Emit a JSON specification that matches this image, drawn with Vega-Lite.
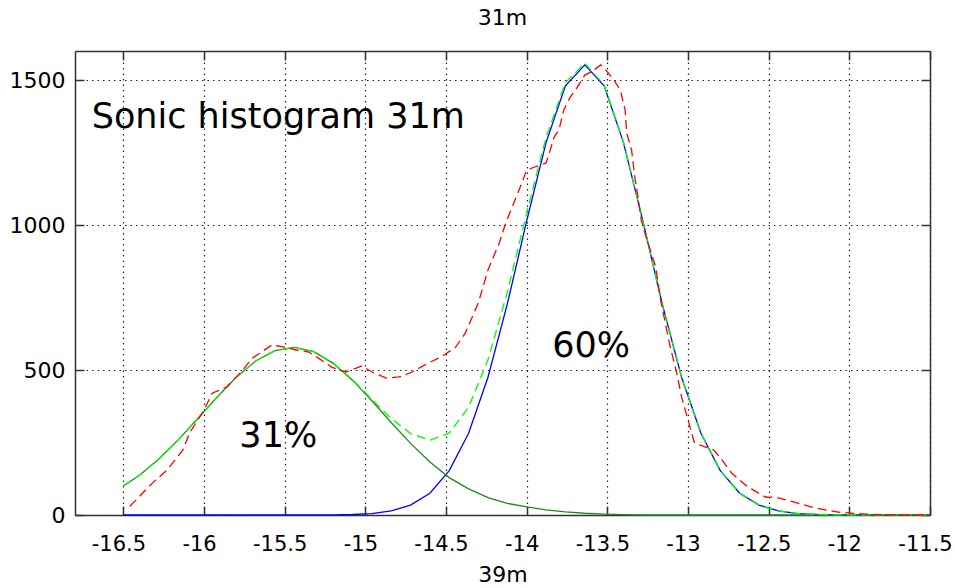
{
  "$schema": "https://vega.github.io/schema/vega-lite/v6.json",
  "autosize": {"type": "none"},
  "width": 855,
  "height": 464,
  "padding": {"left": 75, "top": 51, "right": 25, "bottom": 73},
  "background": "white",
  "title": {"text": "31m", "font": "DejaVu Sans", "fontSize": 22, "fontWeight": "normal", "color": "black", "offset": 20},
  "config": {
    "view": {"stroke": null},
    "axis": {
      "labelFont": "DejaVu Sans", "labelFontSize": 22, "labelColor": "black", "labelFlush": false, "labelOverlap": false,
      "titleFont": "DejaVu Sans", "titleFontSize": 22, "titleFontWeight": "normal", "titleColor": "black",
      "domainColor": "#333", "domainWidth": 1.5,
      "tickColor": "#333", "tickWidth": 1.5, "tickSize": -9,
      "gridColor": "#222", "gridDash": [1.5, 4], "gridWidth": 1.2, "gridOpacity": 1
    }
  },
  "datasets": {
    "hist": [
      {"x": -16.46, "y": 30}, {"x": -16.32, "y": 110}, {"x": -16.23, "y": 155}, {"x": -16.13, "y": 225},
      {"x": -16.09, "y": 283}, {"x": -16.0, "y": 362}, {"x": -15.95, "y": 420}, {"x": -15.86, "y": 441},
      {"x": -15.76, "y": 500}, {"x": -15.7, "y": 541}, {"x": -15.58, "y": 586}, {"x": -15.51, "y": 580},
      {"x": -15.43, "y": 569}, {"x": -15.35, "y": 562}, {"x": -15.29, "y": 541}, {"x": -15.21, "y": 510},
      {"x": -15.12, "y": 493}, {"x": -15.02, "y": 514}, {"x": -14.96, "y": 493}, {"x": -14.87, "y": 472},
      {"x": -14.79, "y": 476}, {"x": -14.71, "y": 493}, {"x": -14.61, "y": 524}, {"x": -14.53, "y": 545},
      {"x": -14.44, "y": 579}, {"x": -14.38, "y": 628}, {"x": -14.3, "y": 731}, {"x": -14.24, "y": 845},
      {"x": -14.17, "y": 938}, {"x": -14.13, "y": 1007}, {"x": -14.09, "y": 1062}, {"x": -14.04, "y": 1131},
      {"x": -14.0, "y": 1190}, {"x": -13.95, "y": 1200}, {"x": -13.91, "y": 1207}, {"x": -13.88, "y": 1214},
      {"x": -13.86, "y": 1248}, {"x": -13.83, "y": 1303}, {"x": -13.8, "y": 1328}, {"x": -13.77, "y": 1397},
      {"x": -13.73, "y": 1441}, {"x": -13.69, "y": 1472}, {"x": -13.64, "y": 1517}, {"x": -13.6, "y": 1528},
      {"x": -13.54, "y": 1552}, {"x": -13.5, "y": 1528}, {"x": -13.46, "y": 1500}, {"x": -13.42, "y": 1466},
      {"x": -13.39, "y": 1397}, {"x": -13.38, "y": 1317}, {"x": -13.35, "y": 1259}, {"x": -13.33, "y": 1166},
      {"x": -13.31, "y": 1097}, {"x": -13.29, "y": 1017}, {"x": -13.26, "y": 959}, {"x": -13.2, "y": 855},
      {"x": -13.17, "y": 741}, {"x": -13.11, "y": 579}, {"x": -13.07, "y": 490}, {"x": -13.04, "y": 407},
      {"x": -13.0, "y": 328}, {"x": -12.96, "y": 248}, {"x": -12.89, "y": 234}, {"x": -12.84, "y": 224},
      {"x": -12.79, "y": 190}, {"x": -12.73, "y": 145}, {"x": -12.63, "y": 97}, {"x": -12.52, "y": 62},
      {"x": -12.44, "y": 59}, {"x": -12.32, "y": 41}, {"x": -12.21, "y": 24}, {"x": -12.07, "y": 10},
      {"x": -11.9, "y": 3}, {"x": -11.7, "y": 0}, {"x": -11.5, "y": 0}
    ],
    "comp1": [
      {"x": -16.5, "y": 100}, {"x": -16.4, "y": 137}, {"x": -16.28, "y": 193}, {"x": -16.16, "y": 259},
      {"x": -16.04, "y": 332}, {"x": -15.92, "y": 406}, {"x": -15.8, "y": 475}, {"x": -15.68, "y": 531},
      {"x": -15.56, "y": 567}, {"x": -15.44, "y": 578}, {"x": -15.32, "y": 563}, {"x": -15.2, "y": 523},
      {"x": -15.08, "y": 465}, {"x": -14.96, "y": 394}, {"x": -14.84, "y": 319}, {"x": -14.72, "y": 247},
      {"x": -14.6, "y": 183}, {"x": -14.48, "y": 129}, {"x": -14.36, "y": 90}, {"x": -14.24, "y": 60},
      {"x": -14.12, "y": 40}, {"x": -14.0, "y": 28}, {"x": -13.88, "y": 18}, {"x": -13.76, "y": 11},
      {"x": -13.64, "y": 6}, {"x": -13.52, "y": 3}, {"x": -13.4, "y": 1}, {"x": -13.28, "y": 0},
      {"x": -11.5, "y": 0}
    ],
    "comp2": [
      {"x": -16.5, "y": 0}, {"x": -15.2, "y": 0.5}, {"x": -15.08, "y": 1.7}, {"x": -14.96, "y": 5},
      {"x": -14.84, "y": 14}, {"x": -14.72, "y": 34}, {"x": -14.6, "y": 75}, {"x": -14.48, "y": 153},
      {"x": -14.36, "y": 282}, {"x": -14.24, "y": 475}, {"x": -14.12, "y": 728}, {"x": -14.0, "y": 1014},
      {"x": -13.88, "y": 1284}, {"x": -13.76, "y": 1480}, {"x": -13.64, "y": 1552}, {"x": -13.52, "y": 1480},
      {"x": -13.4, "y": 1284}, {"x": -13.28, "y": 1014}, {"x": -13.16, "y": 728}, {"x": -13.04, "y": 475},
      {"x": -12.92, "y": 282}, {"x": -12.8, "y": 153}, {"x": -12.68, "y": 75}, {"x": -12.56, "y": 34},
      {"x": -12.44, "y": 14}, {"x": -12.32, "y": 5}, {"x": -12.2, "y": 1.7}, {"x": -12.08, "y": 0.5},
      {"x": -11.5, "y": 0}
    ],
    "total": [
      {"x": -16.5, "y": 100}, {"x": -16.4, "y": 137}, {"x": -16.28, "y": 193}, {"x": -16.16, "y": 259},
      {"x": -16.04, "y": 332}, {"x": -15.92, "y": 406}, {"x": -15.8, "y": 475}, {"x": -15.68, "y": 531},
      {"x": -15.56, "y": 567}, {"x": -15.44, "y": 578}, {"x": -15.32, "y": 563}, {"x": -15.2, "y": 524},
      {"x": -15.08, "y": 467}, {"x": -14.96, "y": 399}, {"x": -14.84, "y": 333}, {"x": -14.72, "y": 281},
      {"x": -14.6, "y": 258}, {"x": -14.48, "y": 282}, {"x": -14.36, "y": 372}, {"x": -14.24, "y": 535},
      {"x": -14.12, "y": 768}, {"x": -14.0, "y": 1042}, {"x": -13.88, "y": 1302}, {"x": -13.76, "y": 1491},
      {"x": -13.64, "y": 1558}, {"x": -13.52, "y": 1483}, {"x": -13.4, "y": 1285}, {"x": -13.28, "y": 1014},
      {"x": -13.16, "y": 728}, {"x": -13.04, "y": 475}, {"x": -12.92, "y": 282}, {"x": -12.8, "y": 153},
      {"x": -12.68, "y": 75}, {"x": -12.56, "y": 34}, {"x": -12.44, "y": 14}, {"x": -12.32, "y": 5},
      {"x": -12.2, "y": 2}, {"x": -12.08, "y": 0.5}, {"x": -11.5, "y": 0}
    ],
    "notes": [
      {"x": -15.54, "y": 1334, "label": "Sonic histogram 31m"},
      {"x": -15.54, "y": 234, "label": "31%"},
      {"x": -13.6, "y": 545, "label": "60%"}
    ]
  },
  "layer": [
    {
      "encoding": {
        "x": {"field": "x", "type": "quantitative", "scale": {"domain": [-16.8, -11.5], "nice": false, "zero": false},
              "axis": {"values": [-16.5, -16, -15.5, -15, -14.5, -14, -13.5, -13, -12.5, -12, -11.5], "labelExpr": "datum.value + ''", "labelFontSize": 21, "labelOffset": -5, "labelPadding": 27, "title": "39m", "titlePadding": 10, "grid": true}},
        "y": {"field": "y", "type": "quantitative", "scale": {"domain": [0, 1600], "nice": false},
              "axis": {"values": [0, 500, 1000, 1500], "labelExpr": "datum.value + ''", "labelPadding": 19, "title": null, "grid": true}}
      },
      "layer": [
        {"data": {"name": "comp2"}, "mark": {"type": "line", "color": "#0000ff", "strokeWidth": 1.3}},
        {"data": {"name": "comp1"}, "mark": {"type": "line", "color": "#1f8a1f", "strokeWidth": 1.3}},
        {"data": {"name": "total"}, "mark": {"type": "line", "color": "#00ff00", "strokeWidth": 1.3, "strokeDash": [9, 5]}},
        {"data": {"name": "hist"}, "mark": {"type": "line", "color": "#ff0000", "strokeWidth": 1.3, "strokeDash": [9, 5]}},
        {"data": {"name": "notes"}, "mark": {"type": "text", "font": "DejaVu Sans", "fontSize": 35, "color": "black", "align": "center", "baseline": "alphabetic"},
         "encoding": {"text": {"field": "label"}}}
      ]
    },
    {
      "data": {"name": "notes"},
      "mark": {"type": "point", "opacity": 0},
      "encoding": {
        "x": {"field": "x", "type": "quantitative", "scale": {"domain": [-16.8, -11.5], "nice": false, "zero": false},
              "axis": {"orient": "top", "values": [-16.5, -16, -15.5, -15, -14.5, -14, -13.5, -13, -12.5, -12, -11.5], "labels": false, "title": null, "grid": false}},
        "y": {"field": "y", "type": "quantitative", "scale": {"domain": [0, 1600], "nice": false},
              "axis": {"orient": "right", "values": [0, 500, 1000, 1500], "labels": false, "title": null, "grid": false}}
      }
    }
  ],
  "resolve": {"scale": {"x": "independent", "y": "independent"}}
}
